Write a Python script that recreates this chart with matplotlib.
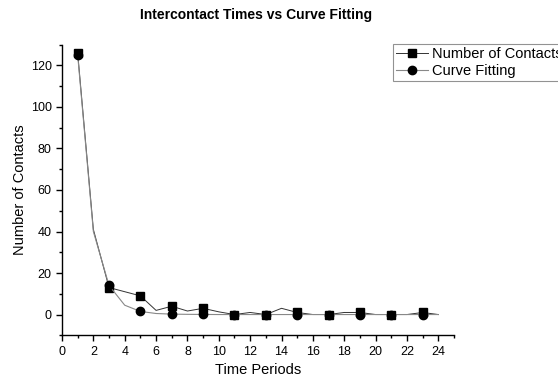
import matplotlib
matplotlib.use("Agg")
import matplotlib.pyplot as plt
from matplotlib.ticker import MultipleLocator

plt.rcParams['font.family'] = ['Liberation Sans', 'DejaVu Sans']

time_periods = list(range(1, 25))
contacts = [126, 41, 13, 11, 9, 2, 4, 1.7, 3, 1.3, 0, 1, 0, 3, 1, 0, 0, 1, 1, 0, 0, 0, 1, 0]
curve_fit = [125, 40, 14, 4.5, 1.5, 0.5, 0.2, 0.1, 0.05, 0, 0, 0, 0, 0, 0, 0, 0, 0, 0, 0, 0, 0, 0, 0]

fig = plt.figure(figsize=(5.58, 3.80), dpi=100)
ax = fig.add_axes([62/558, 1-335.3/380, (454-62)/558, (335.3-44.7)/380])

ax.plot(time_periods, contacts, color='#333333', lw=0.7, marker='s', markersize=5.5,
        markevery=2, markerfacecolor='black', markeredgecolor='black', label='Number of Contacts')
ax.plot(time_periods, curve_fit, color='#888888', lw=0.8, marker='o', markersize=6,
        markevery=2, markerfacecolor='black', markeredgecolor='black', label='Curve Fitting')

ax.set_xlim(0, 25)
ax.set_ylim(-10, 130)
ax.set_xticks(range(0, 25, 2))
ax.xaxis.set_minor_locator(MultipleLocator(1))
ax.set_yticks(range(0, 121, 20))
ax.yaxis.set_minor_locator(MultipleLocator(10))
for s in ['top', 'right']:
    ax.spines[s].set_visible(False)
for s in ['left', 'bottom']:
    ax.spines[s].set_linewidth(1.0)
ax.tick_params(which='major', direction='out', length=4, width=1, labelsize=9)
ax.tick_params(which='minor', direction='out', length=2.5, width=1)

ax.set_xlabel('Time Periods', fontsize=10.5, labelpad=4)
ax.set_ylabel('Number of Contacts', fontsize=10.5, labelpad=2.5)

fig.text(256/558, 1-15.5/380, 'Intercontact Times vs Curve Fitting', ha='center', va='center',
         fontsize=10, fontweight='bold')

leg = fig.legend(loc='upper left', bbox_to_anchor=(393/558, 1-44/380), fontsize=10.5,
                 frameon=True, fancybox=False, edgecolor='#777777', handlelength=2.2,
                 borderaxespad=0, borderpad=0.2, labelspacing=0.2, handletextpad=0.3)
leg.get_frame().set_linewidth(0.8)

fig.savefig('out.png', dpi=100)
